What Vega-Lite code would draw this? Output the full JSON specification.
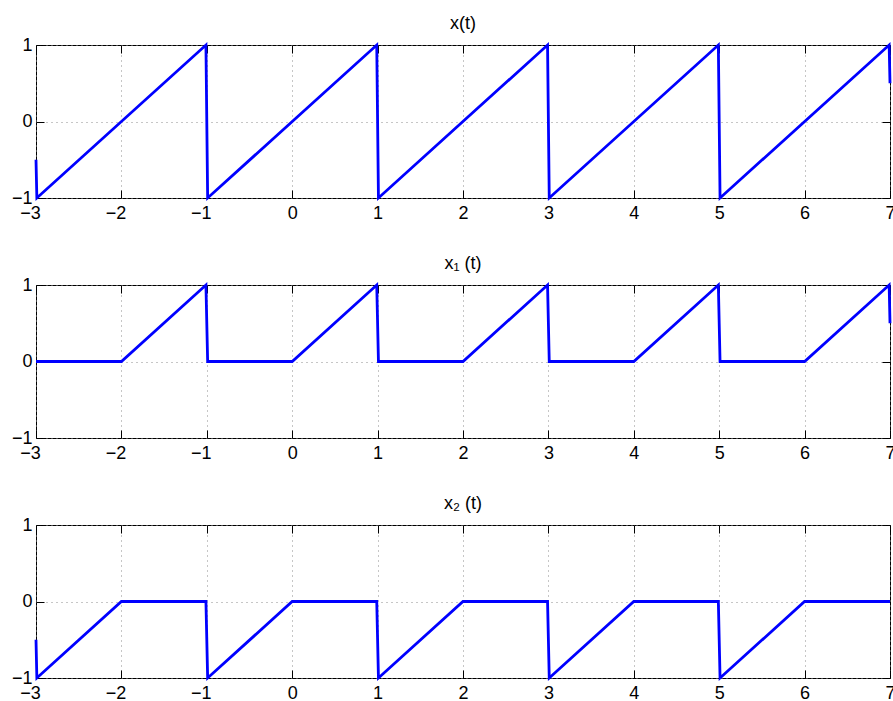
{
  "$schema": "https://vega.github.io/schema/vega-lite/v6.json",
  "padding": {"left": 5, "top": 14, "right": 3, "bottom": 5},
  "background": "white",
  "datasets": {
    "x": [
      {"t": -3, "value": -0.5}, {"t": -2.99, "value": -1}, {"t": -1.01, "value": 1}, {"t": -0.99, "value": -1},
      {"t": 0.99, "value": 1}, {"t": 1.01, "value": -1}, {"t": 2.99, "value": 1}, {"t": 3.01, "value": -1},
      {"t": 4.99, "value": 1}, {"t": 5.01, "value": -1}, {"t": 6.99, "value": 1}, {"t": 7, "value": 0.5}
    ],
    "x1": [
      {"t": -3, "value": 0}, {"t": -2, "value": 0}, {"t": -1.01, "value": 1}, {"t": -0.99, "value": 0},
      {"t": 0, "value": 0}, {"t": 0.99, "value": 1}, {"t": 1.01, "value": 0}, {"t": 2, "value": 0},
      {"t": 2.99, "value": 1}, {"t": 3.01, "value": 0}, {"t": 4, "value": 0}, {"t": 4.99, "value": 1},
      {"t": 5.01, "value": 0}, {"t": 6, "value": 0}, {"t": 6.99, "value": 1}, {"t": 7, "value": 0.5}
    ],
    "x2": [
      {"t": -3, "value": -0.5}, {"t": -2.99, "value": -1}, {"t": -2, "value": 0}, {"t": -1.01, "value": 0},
      {"t": -0.99, "value": -1}, {"t": 0, "value": 0}, {"t": 0.99, "value": 0}, {"t": 1.01, "value": -1},
      {"t": 2, "value": 0}, {"t": 2.99, "value": 0}, {"t": 3.01, "value": -1}, {"t": 4, "value": 0},
      {"t": 4.99, "value": 0}, {"t": 5.01, "value": -1}, {"t": 6, "value": 0}, {"t": 7, "value": 0}
    ]
  },
  "bounds": "flush",
  "spacing": 87,
  "vconcat": [
    {
      "width": 854, "height": 153,
      "title": "x(t)",
      "layer": [
        {"data": {"name": "x"}, "mark": {"type": "line", "color": "#0000ff", "strokeWidth": 2.8},
         "encoding": {
           "x": {"field": "t", "type": "quantitative", "scale": {"domain": [-3, 7], "nice": false, "zero": false},
                 "axis": {"orient": "bottom", "values": [-3,-2,-1,0,1,2,3,4,5,6,7], "format": "d", "grid": true, "title": null,
                          "labelOffset": {"condition": {"test": "datum.value < 0", "value": -6}, "value": 0}}},
           "y": {"field": "value", "type": "quantitative", "scale": {"domain": [-1, 1], "nice": false, "zero": false},
                 "axis": {"orient": "left", "values": [-1, 0, 1], "grid": true, "title": null,
                          "labelExpr": "datum.value > 0.5 ? '1' : (datum.value < -0.5 ? '−1' : '0')", "minExtent": 30, "maxExtent": 30}}}},
        {"data": {"name": "x"}, "mark": {"type": "line", "opacity": 0},
         "encoding": {
           "x": {"field": "t", "type": "quantitative", "scale": {"domain": [-3, 7], "nice": false, "zero": false},
                 "axis": {"orient": "top", "values": [-3,-2,-1,0,1,2,3,4,5,6,7], "grid": false, "labels": false, "title": null}},
           "y": {"field": "value", "type": "quantitative", "scale": {"domain": [-1, 1], "nice": false, "zero": false},
                 "axis": {"orient": "right", "values": [-1, 0, 1], "grid": false, "labels": false, "title": null}}}}
      ],
      "resolve": {"axis": {"x": "independent", "y": "independent"}}
    },
    {
      "width": 854, "height": 153,
      "title": "x₁ (t)",
      "layer": [
        {"data": {"name": "x1"}, "mark": {"type": "line", "color": "#0000ff", "strokeWidth": 2.8},
         "encoding": {
           "x": {"field": "t", "type": "quantitative", "scale": {"domain": [-3, 7], "nice": false, "zero": false},
                 "axis": {"orient": "bottom", "values": [-3,-2,-1,0,1,2,3,4,5,6,7], "format": "d", "grid": true, "title": null,
                          "labelOffset": {"condition": {"test": "datum.value < 0", "value": -6}, "value": 0}}},
           "y": {"field": "value", "type": "quantitative", "scale": {"domain": [-1, 1], "nice": false, "zero": false},
                 "axis": {"orient": "left", "values": [-1, 0, 1], "grid": true, "title": null,
                          "labelExpr": "datum.value > 0.5 ? '1' : (datum.value < -0.5 ? '−1' : '0')", "minExtent": 30, "maxExtent": 30}}}},
        {"data": {"name": "x1"}, "mark": {"type": "line", "opacity": 0},
         "encoding": {
           "x": {"field": "t", "type": "quantitative", "scale": {"domain": [-3, 7], "nice": false, "zero": false},
                 "axis": {"orient": "top", "values": [-3,-2,-1,0,1,2,3,4,5,6,7], "grid": false, "labels": false, "title": null}},
           "y": {"field": "value", "type": "quantitative", "scale": {"domain": [-1, 1], "nice": false, "zero": false},
                 "axis": {"orient": "right", "values": [-1, 0, 1], "grid": false, "labels": false, "title": null}}}}
      ],
      "resolve": {"axis": {"x": "independent", "y": "independent"}}
    },
    {
      "width": 854, "height": 153,
      "title": "x₂ (t)",
      "layer": [
        {"data": {"name": "x2"}, "mark": {"type": "line", "color": "#0000ff", "strokeWidth": 2.8},
         "encoding": {
           "x": {"field": "t", "type": "quantitative", "scale": {"domain": [-3, 7], "nice": false, "zero": false},
                 "axis": {"orient": "bottom", "values": [-3,-2,-1,0,1,2,3,4,5,6,7], "format": "d", "grid": true, "title": null,
                          "labelOffset": {"condition": {"test": "datum.value < 0", "value": -6}, "value": 0}}},
           "y": {"field": "value", "type": "quantitative", "scale": {"domain": [-1, 1], "nice": false, "zero": false},
                 "axis": {"orient": "left", "values": [-1, 0, 1], "grid": true, "title": null,
                          "labelExpr": "datum.value > 0.5 ? '1' : (datum.value < -0.5 ? '−1' : '0')", "minExtent": 30, "maxExtent": 30}}}},
        {"data": {"name": "x2"}, "mark": {"type": "line", "opacity": 0},
         "encoding": {
           "x": {"field": "t", "type": "quantitative", "scale": {"domain": [-3, 7], "nice": false, "zero": false},
                 "axis": {"orient": "top", "values": [-3,-2,-1,0,1,2,3,4,5,6,7], "grid": false, "labels": false, "title": null}},
           "y": {"field": "value", "type": "quantitative", "scale": {"domain": [-1, 1], "nice": false, "zero": false},
                 "axis": {"orient": "right", "values": [-1, 0, 1], "grid": false, "labels": false, "title": null}}}}
      ],
      "resolve": {"axis": {"x": "independent", "y": "independent"}}
    }
  ],
  "config": {
    "view": {"stroke": "black", "strokeWidth": 1},
    "font": "Liberation Sans",
    "title": {"fontSize": 18, "fontWeight": "normal", "offset": 3, "color": "black", "font": "Liberation Sans"},
    "axis": {
      "labelFont": "Liberation Sans", "labelFontSize": 18, "labelColor": "black", "labelFlush": false,
      "labelPadding": 14, "domain": false, "tickColor": "black", "tickSize": -8, "tickWidth": 1,
      "gridColor": "#8c8c8c", "gridDash": [1, 4], "gridOpacity": 1, "gridWidth": 1
    },
    "axisY": {"labelPadding": 12}
  }
}
